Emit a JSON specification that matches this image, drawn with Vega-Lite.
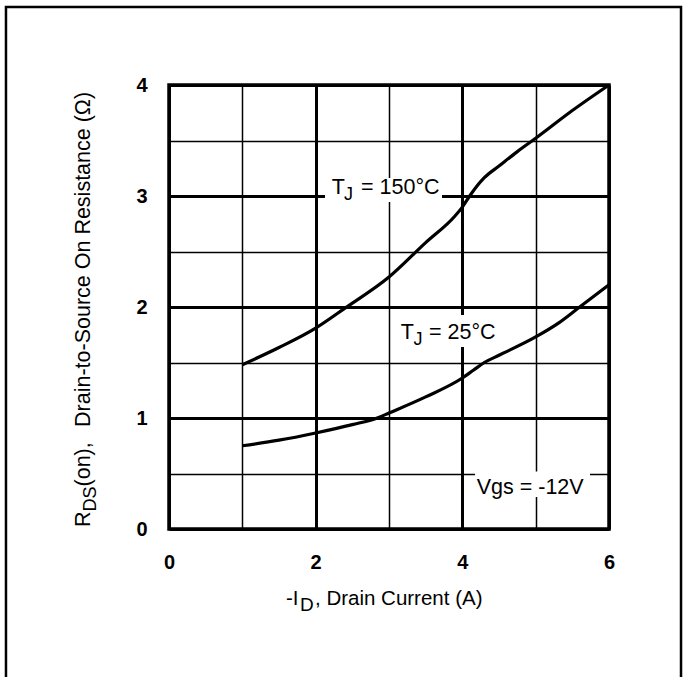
{
  "$schema": "https://vega.github.io/schema/vega-lite/v6.json",
  "width": 440,
  "height": 444,
  "autosize": {"type": "none"},
  "padding": {"left": 169, "top": 85, "right": 75, "bottom": 148},
  "background": "white",
  "config": {
    "view": {"stroke": "black", "strokeWidth": 3.5},
    "font": "Liberation Sans",
    "text": {"font": "Liberation Sans", "color": "black"}
  },
  "datasets": {
    "curves": [
      {"id": 1, "r": 1.48, "t": "150"}, {"id": 1.5, "r": 1.635, "t": "150"}, {"id": 2, "r": 1.81, "t": "150"},
      {"id": 2.4, "r": 1.99, "t": "150"}, {"id": 3, "r": 2.27, "t": "150"}, {"id": 3.5, "r": 2.58, "t": "150"},
      {"id": 3.9, "r": 2.82, "t": "150"}, {"id": 4, "r": 2.9, "t": "150"}, {"id": 4.1, "r": 3.0, "t": "150"},
      {"id": 4.2, "r": 3.09, "t": "150"}, {"id": 4.3, "r": 3.165, "t": "150"}, {"id": 4.5, "r": 3.27, "t": "150"},
      {"id": 4.75, "r": 3.4, "t": "150"}, {"id": 5, "r": 3.52, "t": "150"}, {"id": 5.5, "r": 3.77, "t": "150"},
      {"id": 6, "r": 4.0, "t": "150"},
      {"id": 1, "r": 0.75, "t": "25"}, {"id": 1.5, "r": 0.8, "t": "25"}, {"id": 2, "r": 0.865, "t": "25"},
      {"id": 2.5, "r": 0.94, "t": "25"}, {"id": 2.84, "r": 1.0, "t": "25"}, {"id": 3, "r": 1.045, "t": "25"},
      {"id": 3.5, "r": 1.19, "t": "25"}, {"id": 4, "r": 1.36, "t": "25"}, {"id": 4.15, "r": 1.43, "t": "25"},
      {"id": 4.3, "r": 1.5, "t": "25"}, {"id": 4.5, "r": 1.565, "t": "25"}, {"id": 5, "r": 1.73, "t": "25"},
      {"id": 5.3, "r": 1.85, "t": "25"}, {"id": 5.6, "r": 2.0, "t": "25"}, {"id": 6, "r": 2.2, "t": "25"}
    ],
    "boxes": [
      {"x": 2.127, "x2": 3.723, "y": 3.162, "y2": 2.946},
      {"x": 3.041, "x2": 4.514, "y": 1.928, "y2": 1.64},
      {"x": 4.173, "x2": 5.741, "y": 0.518, "y2": 0.288}
    ],
    "frame": [
      {"x": -2.223, "x2": 6.982, "y": 4.703, "y2": -1.6}
    ],
    "labels": [
      {"x": 2.219, "y": 3.018, "s": "T"},
      {"x": 2.618, "y": 3.018, "s": "= 150°C"},
      {"x": 3.16, "y": 1.712, "s": "T"},
      {"x": 3.545, "y": 1.712, "s": "= 25°C"},
      {"x": 4.196, "y": 0.315, "s": "Vgs = -12V"}
    ],
    "subs": [
      {"x": 2.387, "y": 2.964, "s": "J"},
      {"x": 3.334, "y": 1.658, "s": "J"}
    ],
    "xlab": [
      {"x": 1.596, "y": -0.685, "s": "-I"},
      {"x": 1.991, "y": -0.685, "s": ", Drain Current (A)"}
    ],
    "xsub": [
      {"x": 1.787, "y": -0.739, "s": "D"}
    ],
    "ylab": [
      {"x": -1.077, "y": 0.018, "s": "R"},
      {"x": -1.077, "y": 0.383, "s": "(on),"},
      {"x": -1.077, "y": 0.919, "s": "Drain-to-Source On Resistance (Ω)"}
    ],
    "ysub": [
      {"x": -0.996, "y": 0.158, "s": "DS"}
    ]
  },
  "layer": [
    {
      "data": {"name": "frame"},
      "mark": {"type": "rect", "fillOpacity": 0, "stroke": "black", "strokeWidth": 2.5},
      "encoding": {
        "x": {"field": "x", "type": "quantitative", "scale": {"domain": [0, 6], "nice": false, "zero": false},
          "axis": {
            "values": [0, 1, 2, 3, 4, 5, 6],
            "title": null,
            "domain": false,
            "ticks": false,
            "labelExpr": "datum.value % 2 === 0 ? format(datum.value, 'd') : ''",
            "labelFont": "Liberation Sans",
            "labelFontSize": 20,
            "labelFontWeight": "bold",
            "labelColor": "black",
            "labelPadding": 23,
            "labelFlush": false,
            "labelOverlap": false,
            "grid": true,
            "gridColor": "black",
            "gridOpacity": 1,
            "gridWidth": {"condition": {"test": "datum.value % 2 === 0", "value": 3}, "value": 1.5}
          }},
        "x2": {"field": "x2"},
        "y": {"field": "y", "type": "quantitative", "scale": {"domain": [0, 4], "nice": false, "zero": false},
          "axis": {
            "values": [0, 0.5, 1, 1.5, 2, 2.5, 3, 3.5, 4],
            "title": null,
            "domain": false,
            "ticks": false,
            "labelExpr": "datum.value % 1 === 0 ? format(datum.value, 'd') : ''",
            "labelFont": "Liberation Sans",
            "labelFontSize": 20,
            "labelFontWeight": "bold",
            "labelColor": "black",
            "labelPadding": 22,
            "labelFlush": false,
            "labelOverlap": false,
            "grid": true,
            "gridColor": "black",
            "gridOpacity": 1,
            "gridWidth": {"condition": {"test": "datum.value % 1 === 0", "value": 3}, "value": 1.5}
          }},
        "y2": {"field": "y2"}
      }
    },
    {
      "data": {"name": "boxes"},
      "mark": {"type": "rect", "fill": "white", "strokeWidth": 0},
      "encoding": {
        "x": {"field": "x", "type": "quantitative"},
        "x2": {"field": "x2"},
        "y": {"field": "y", "type": "quantitative"},
        "y2": {"field": "y2"}
      }
    },
    {
      "data": {"name": "curves"},
      "mark": {"type": "line", "interpolate": "monotone", "color": "black", "strokeWidth": 3.2},
      "encoding": {
        "x": {"field": "id", "type": "quantitative"},
        "y": {"field": "r", "type": "quantitative"},
        "detail": {"field": "t"}
      }
    },
    {
      "data": {"name": "labels"},
      "mark": {"type": "text", "align": "left", "baseline": "alphabetic", "fontSize": 21.5, "font": "Liberation Sans"},
      "encoding": {
        "x": {"field": "x", "type": "quantitative"},
        "y": {"field": "y", "type": "quantitative"},
        "text": {"field": "s"}
      }
    },
    {
      "data": {"name": "subs"},
      "mark": {"type": "text", "align": "left", "baseline": "alphabetic", "fontSize": 18, "font": "Liberation Sans"},
      "encoding": {
        "x": {"field": "x", "type": "quantitative"},
        "y": {"field": "y", "type": "quantitative"},
        "text": {"field": "s"}
      }
    },
    {
      "data": {"name": "xlab"},
      "mark": {"type": "text", "align": "left", "baseline": "alphabetic", "fontSize": 20.5, "font": "Liberation Sans"},
      "encoding": {
        "x": {"field": "x", "type": "quantitative"},
        "y": {"field": "y", "type": "quantitative"},
        "text": {"field": "s"}
      }
    },
    {
      "data": {"name": "xsub"},
      "mark": {"type": "text", "align": "left", "baseline": "alphabetic", "fontSize": 19, "font": "Liberation Sans"},
      "encoding": {
        "x": {"field": "x", "type": "quantitative"},
        "y": {"field": "y", "type": "quantitative"},
        "text": {"field": "s"}
      }
    },
    {
      "data": {"name": "ylab"},
      "mark": {"type": "text", "align": "left", "baseline": "alphabetic", "angle": 270, "fontSize": 21.5, "font": "Liberation Sans"},
      "encoding": {
        "x": {"field": "x", "type": "quantitative"},
        "y": {"field": "y", "type": "quantitative"},
        "text": {"field": "s"}
      }
    },
    {
      "data": {"name": "ysub"},
      "mark": {"type": "text", "align": "left", "baseline": "alphabetic", "angle": 270, "fontSize": 18, "font": "Liberation Sans"},
      "encoding": {
        "x": {"field": "x", "type": "quantitative"},
        "y": {"field": "y", "type": "quantitative"},
        "text": {"field": "s"}
      }
    }
  ]
}
